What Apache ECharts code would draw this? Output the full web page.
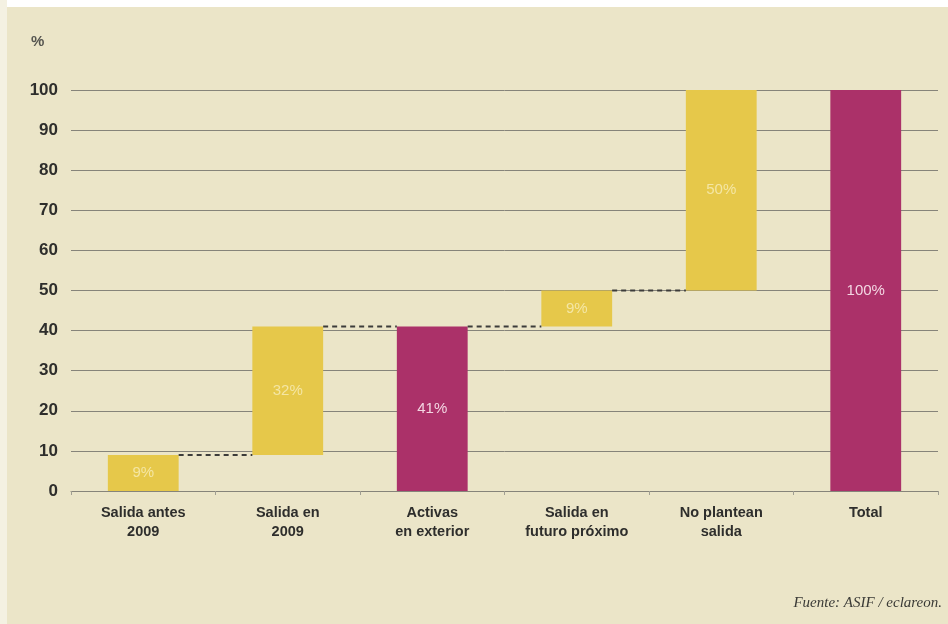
<!DOCTYPE html>
<html>
<head>
<meta charset="utf-8">
<script src="https://cdn.jsdelivr.net/npm/echarts@6/dist/echarts.min.js"></script>
<style>
  html, body { margin: 0; padding: 0; background: #ebe5c8; }
  #chart { width: 948px; height: 624px; }
</style>
</head>
<body>
<div id="chart"></div>
<script>
// Categories (x axis, two-line labels)
const categories = [
  'Salida antes\n2009',
  'Salida en\n2009',
  'Activas\nen exterior',
  'Salida en\nfuturo próximo',
  'No plantean\nsalida',
  'Total'
];
// Size of each step (%)
const stepValues = [9, 32, 41, 9, 50, 100];
// Invisible base each step floats on (%)
const baseValues = [0, 9, 0, 41, 50, 0];
// Which bars are totals (drawn in magenta) rather than steps (yellow)
const isTotal = [false, false, true, false, false, true];
// Value labels written inside the bars
const barLabels = ['9%', '32%', '41%', '9%', '50%', '100%'];
// Connector levels: dashed line from bar i top to bar i+1
const connectorLevels = [9, 41, 41, 50];
// Y axis ticks
const yTicks = [0, 10, 20, 30, 40, 50, 60, 70, 80, 90, 100];

const YELLOW = '#e6c84a';
const MAGENTA = '#ab3169';
const BAR_RATIO = 0.49;
const SANS = '"Liberation Sans", Arial, sans-serif';

const chart = echarts.init(document.getElementById('chart'), null, { renderer: 'canvas' });

const option = {
  backgroundColor: '#ebe5c8',
  animation: false,
  grid: { left: 71, right: 10, top: 90, bottom: 133 },
  graphic: [
    { type: 'rect', shape: { x: 0, y: 0, width: 948, height: 7 }, style: { fill: '#ffffff' }, z: 0 },
    { type: 'rect', shape: { x: 0, y: 0, width: 7, height: 624 }, style: { fill: '#f4f1e2' }, z: 0 },
    {
      type: 'text', left: 31, top: 34,
      style: { text: '%', font: 'bold 15px ' + SANS, fill: '#555550' }
    },
    {
      type: 'text', right: 6, top: 596,
      style: { text: 'Fuente: ASIF / eclareon.', font: 'italic 15px "Liberation Serif", "Times New Roman", serif', fill: '#3a3a36' }
    }
  ],
  xAxis: {
    type: 'category',
    data: categories,
    axisLine: { show: true, lineStyle: { color: '#86847a', width: 1 } },
    axisTick: { show: true, length: 4, lineStyle: { color: '#a09e92' } },
    axisLabel: {
      interval: 0,
      margin: 12,
      color: '#2e2e2c',
      fontSize: 14.5,
      fontWeight: 'bold',
      lineHeight: 19,
      fontFamily: SANS
    }
  },
  yAxis: {
    type: 'value',
    min: yTicks[0],
    max: yTicks[yTicks.length - 1],
    interval: 10,
    axisLine: { show: false },
    axisTick: { show: false },
    splitLine: { show: true, lineStyle: { color: '#86847a', width: 1 } },
    axisLabel: {
      margin: 13,
      color: '#2e2e2c',
      fontSize: 17,
      fontWeight: 'bold',
      fontFamily: SANS
    }
  },
  series: [
    {
      name: 'base',
      type: 'bar',
      stack: 'wf',
      barWidth: (BAR_RATIO * 100) + '%',
      itemStyle: { color: 'transparent' },
      silent: true,
      data: baseValues
    },
    {
      name: 'step',
      type: 'bar',
      stack: 'wf',
      barWidth: (BAR_RATIO * 100) + '%',
      data: stepValues.map((v, i) => ({
        value: v,
        itemStyle: { color: isTotal[i] ? MAGENTA : YELLOW },
        label: {
          show: true,
          position: 'inside',
          formatter: barLabels[i],
          color: isTotal[i] ? '#f3d6e2' : '#f4e6a4',
          fontSize: 15,
          fontFamily: SANS
        }
      }))
    },
    {
      name: 'connectors',
      type: 'custom',
      data: connectorLevels.map((lvl, i) => [i, lvl]),
      renderItem: function (params, api) {
        const i = api.value(0);
        const lvl = api.value(1);
        const half = api.size([1, 0])[0] * BAR_RATIO / 2;
        const p1 = api.coord([i, lvl]);
        const p2 = api.coord([i + 1, lvl]);
        return {
          type: 'line',
          shape: { x1: p1[0] + half, y1: p1[1], x2: p2[0] - half, y2: p2[1] },
          style: { stroke: '#3c3c3a', lineWidth: 2, lineDash: [5, 4] }
        };
      },
      z: 5
    }
  ]
};

chart.setOption(option);
</script>
</body>
</html>
